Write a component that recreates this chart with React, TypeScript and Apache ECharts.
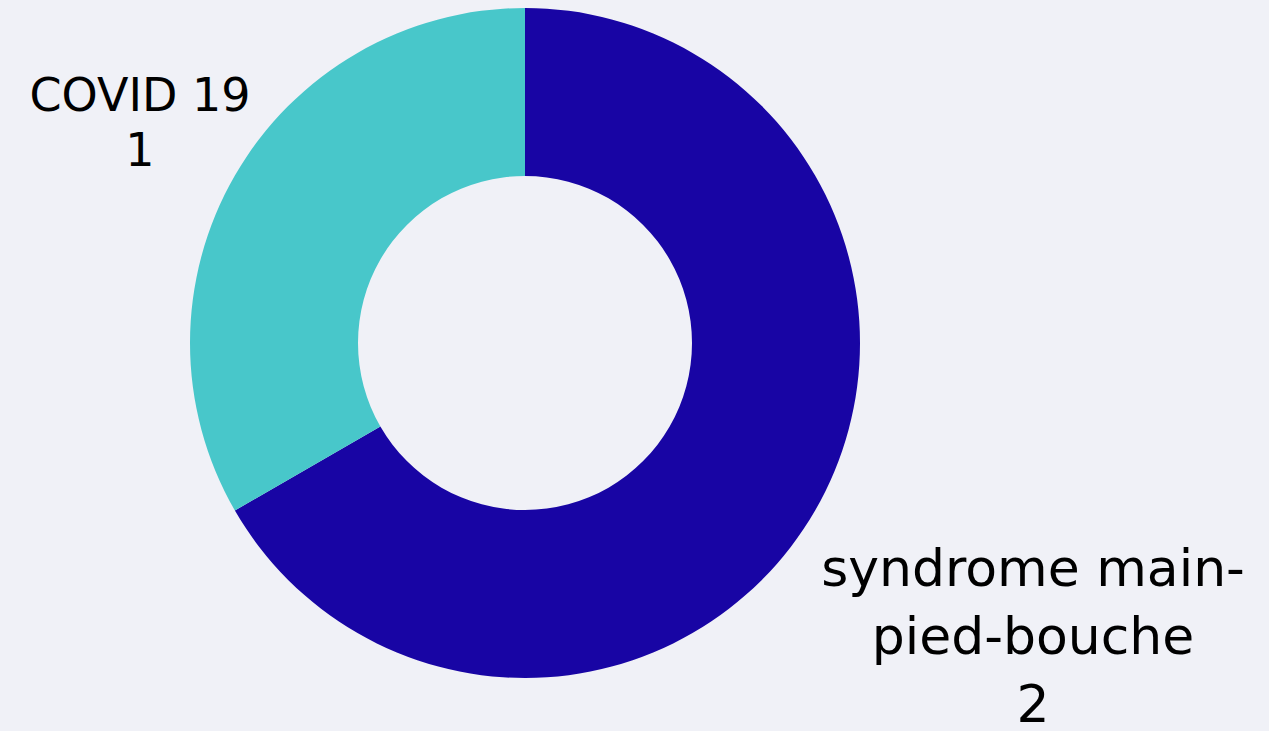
import React, { useEffect, useRef } from "react";
import * as echarts from "echarts";

const categories = ["syndrome main-pied-bouche", "COVID 19"];
const labelTexts = ["syndrome main-\npied-bouche", "COVID 19"];
const values = [2, 1];
const colors = ["#1805A4", "#48C7CA"];

export default function App() {
  const ref = useRef<HTMLDivElement>(null);
  useEffect(() => {
    document.body.style.margin = "0";
    document.body.style.background = "#F0F1F7";
    const chart = echarts.init(ref.current!, undefined, { renderer: "svg" });
    const fontSizes = [52, 46];
    const lineHeights = [68, 55];
    const labelPos = [
      [1033, 636],
      [140, 122],
    ];
    chart.setOption({
      animation: false,
      backgroundColor: "#F0F1F7",
      series: [
        {
          type: "pie",
          center: [525, 343],
          radius: [167, 335],
          startAngle: 90,
          clockwise: true,
          avoidLabelOverlap: false,
          labelLine: { show: false },
          label: {
            show: true,
            position: "outside",
            color: "#000",
            fontFamily: "'DejaVu Sans', sans-serif",
            align: "center",
          },
          labelLayout: (p: any) => ({
            x: labelPos[p.dataIndex][0],
            y: labelPos[p.dataIndex][1],
            align: "center",
            verticalAlign: "middle",
          }),
          data: categories.map((c, i) => ({
            name: c,
            value: values[i],
            itemStyle: { color: colors[i] },
            label: {
              formatter: labelTexts[i] + "\n" + values[i],
              fontSize: fontSizes[i],
              lineHeight: lineHeights[i],
            },
          })),
        },
      ],
    });
    return () => chart.dispose();
  }, []);
  return <div ref={ref} style={{ width: 1269, height: 731 }} />;
}
